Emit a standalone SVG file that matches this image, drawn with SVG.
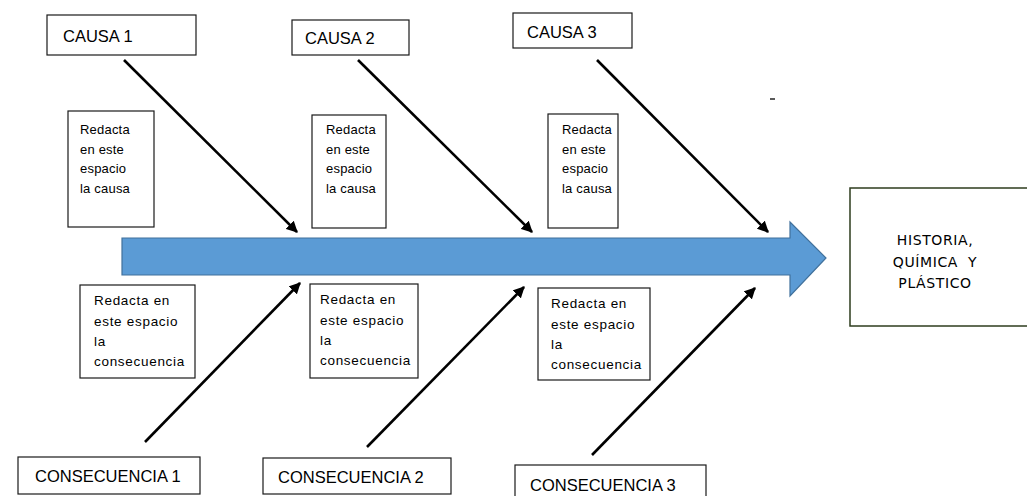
<svg xmlns="http://www.w3.org/2000/svg" width="1027" height="496" viewBox="0 0 1027 496">
<style>
.box{fill:#fff;stroke:#1a1a1a;stroke-width:1.2}
.lbl{font-family:"Liberation Sans",Arial,sans-serif;font-size:16.5px;fill:#000}
.sm{font-family:"Liberation Sans",Arial,sans-serif;font-size:13px;fill:#000;letter-spacing:0.2px}
.smb{font-family:"Liberation Sans",Arial,sans-serif;font-size:13.5px;fill:#000;letter-spacing:0.7px}
.big{font-family:"DejaVu Sans",Verdana,sans-serif;font-size:14px;fill:#000;letter-spacing:0.6px;text-anchor:middle}
.con{stroke:#000;stroke-width:2.6;fill:none;marker-end:url(#ah)}
</style>
<defs>
<marker id="ah" viewBox="0 0 10 10" refX="9" refY="5" markerWidth="4.4" markerHeight="4.4" orient="auto" markerUnits="strokeWidth">
<path d="M0,0 L10,5 L0,10 Z" fill="#000"/>
</marker>
</defs>
<rect width="1027" height="496" fill="#fff"/>

<g id="spine">
<path d="M122,238 L790,238 L790,222 L826,258 L790,296 L790,275 L122,275 Z" fill="#5b9bd5" stroke="#41719c" stroke-width="1.2"/>
</g>

<g id="connectors">
<line class="con" x1="124" y1="60" x2="297" y2="232"/>
<line class="con" x1="358" y1="60" x2="532" y2="232"/>
<line class="con" x1="597" y1="60" x2="768" y2="232"/>
<line class="con" x1="145" y1="442" x2="300" y2="283"/>
<line class="con" x1="367" y1="447" x2="524" y2="287"/>
<line class="con" x1="592" y1="455" x2="755" y2="288"/>
</g>

<g id="causa1"><rect class="box" x="47" y="15" width="149" height="40"/><text class="lbl" x="63" y="42">CAUSA 1</text></g>
<g id="causa2"><rect class="box" x="292" y="20" width="117" height="35"/><text class="lbl" x="305" y="44">CAUSA 2</text></g>
<g id="causa3"><rect class="box" x="513" y="13" width="119" height="35"/><text class="lbl" x="527" y="38">CAUSA 3</text></g>

<g id="redacta-causa1"><rect class="box" x="68" y="111" width="86" height="116"/>
<text class="sm" x="80" y="134">Redacta</text><text class="sm" x="80" y="154">en este</text><text class="sm" x="80" y="173">espacio</text><text class="sm" x="80" y="193">la causa</text></g>
<g id="redacta-causa2"><rect class="box" x="312" y="115" width="74" height="113"/>
<text class="sm" x="326" y="134">Redacta</text><text class="sm" x="326" y="154">en este</text><text class="sm" x="326" y="173">espacio</text><text class="sm" x="326" y="193">la causa</text></g>
<g id="redacta-causa3"><rect class="box" x="548" y="114" width="70" height="114"/>
<text class="sm" x="562" y="134">Redacta</text><text class="sm" x="562" y="154">en este</text><text class="sm" x="562" y="173">espacio</text><text class="sm" x="562" y="193">la causa</text></g>

<g id="redacta-cons1"><rect class="box" x="80" y="285" width="115" height="93"/>
<text class="smb" x="94" y="305">Redacta en</text><text class="smb" x="94" y="326">este espacio</text><text class="smb" x="94" y="346">la</text><text class="smb" x="94" y="366">consecuencia</text></g>
<g id="redacta-cons2"><rect class="box" x="310" y="284" width="108" height="94"/>
<text class="smb" x="320" y="304">Redacta en</text><text class="smb" x="320" y="325">este espacio</text><text class="smb" x="320" y="345">la</text><text class="smb" x="320" y="365">consecuencia</text></g>
<g id="redacta-cons3"><rect class="box" x="538" y="288" width="112" height="92"/>
<text class="smb" x="551" y="308">Redacta en</text><text class="smb" x="551" y="329">este espacio</text><text class="smb" x="551" y="349">la</text><text class="smb" x="551" y="369">consecuencia</text></g>

<g id="consecuencia1"><rect class="box" x="18" y="457" width="182" height="37"/><text class="lbl" x="35" y="482">CONSECUENCIA 1</text></g>
<g id="consecuencia2"><rect class="box" x="263" y="458" width="188" height="36"/><text class="lbl" x="278" y="483">CONSECUENCIA 2</text></g>
<g id="consecuencia3"><rect class="box" x="515" y="465" width="191" height="35"/><text class="lbl" x="530" y="491">CONSECUENCIA 3</text></g>

<g id="efecto"><rect x="850" y="188" width="180" height="138" fill="#fff" stroke="#2e3d1e" stroke-width="1.5"/>
<text class="big" x="935" y="245">HISTORIA,</text>
<text class="big" x="935" y="267" xml:space="preserve">QUÍMICA  Y</text>
<text class="big" x="935" y="288">PLÁSTICO</text></g>

<line x1="770" y1="99" x2="775" y2="99" stroke="#000" stroke-width="1.3"/>
</svg>
